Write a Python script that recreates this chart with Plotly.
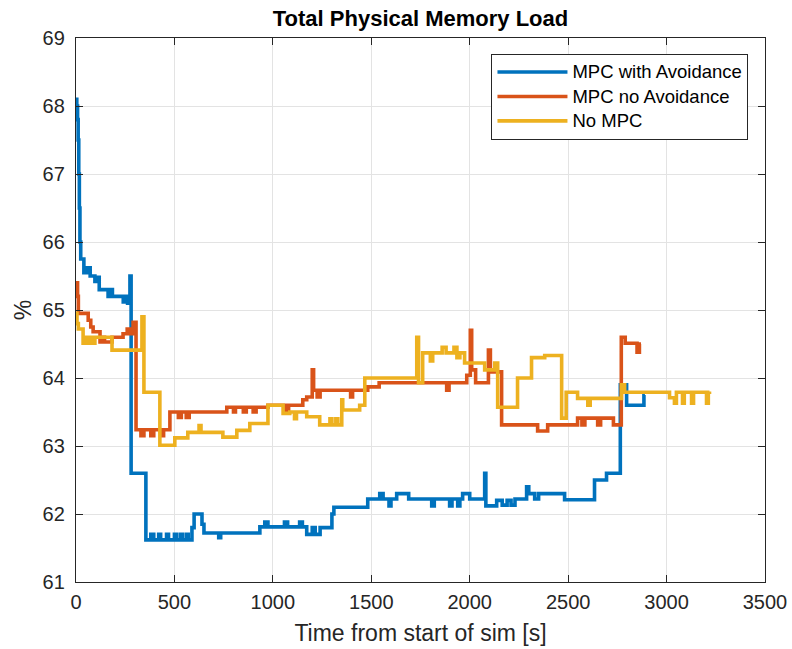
import plotly.graph_objects as go

# Memory load traces, stored as step breakpoints (time [s], load [%])
t_avoid = [0, 4, 8, 11, 14, 17, 20, 24, 40, 58, 72, 96, 110, 118, 163, 175, 185, 240, 255, 262, 274, 280,
           355, 380, 395, 420, 430, 460, 470, 500, 510, 530, 540, 560, 570, 589, 600, 640, 650, 725, 735,
           934, 959, 975, 1059, 1075, 1136, 1150, 1172, 1200, 1215, 1240, 1300, 1310, 1482, 1543, 1560,
           1590, 1600, 1629, 1690, 1807, 1820, 1898, 1910, 1939, 1950, 1964, 2000, 2076, 2082, 2137, 2165,
           2190, 2210, 2230, 2289, 2300, 2330, 2350, 2482, 2634, 2695, 2765, 2797, 2885, 2890]
y_avoid = [68.1, 68.0, 67.8, 67.5, 67.0, 66.5, 66.0, 65.75, 65.55, 65.62, 65.5, 65.42, 65.48, 65.3, 65.2, 65.3,
           65.2, 65.12, 65.2, 65.1, 65.5, 62.6,
           61.62, 61.7, 61.62, 61.7, 61.62, 61.7, 61.62, 61.7, 61.62, 61.7, 61.62, 61.7, 61.62, 61.8, 62.0,
           61.85, 61.72, 61.65, 61.72,
           61.81, 61.88, 61.81, 61.88, 61.81, 61.88, 61.81, 61.7, 61.8, 61.7, 61.8, 62.0, 62.1, 62.22, 62.3, 62.22,
           62.12, 62.22, 62.3, 62.22, 62.12, 62.22, 62.12, 62.22, 62.12, 62.22, 62.3, 62.22, 62.6, 62.12, 62.2,
           62.13, 62.2, 62.13, 62.22, 62.4, 62.3, 62.22, 62.3, 62.21, 62.5, 62.6, 63.9, 63.6, 63.75, 63.75]

t_noavoid = [0, 3, 8, 12, 62, 75, 87, 122, 135, 145, 183, 239, 260, 274, 290, 305, 330, 345, 380, 395, 430,
             445, 477, 520, 535, 560, 575, 766, 800, 810, 850, 865, 900, 915, 975, 1065, 1080, 1152, 1172,
             1200, 1207, 1225, 1240, 1395, 1405, 1482, 1540, 1883, 1895, 1985, 2003, 2010, 2030, 2095, 2105,
             2162, 2345, 2396, 2548, 2570, 2585, 2650, 2665, 2730, 2770, 2790, 2850, 2862, 2870]
y_noavoid = [65.3, 65.4, 65.2, 64.95, 64.85, 64.75, 64.68, 64.53, 64.6, 64.53, 64.6, 64.65, 64.72, 64.65,
             64.82, 63.24, 63.15, 63.24, 63.15, 63.24, 63.15, 63.24, 63.5, 63.42, 63.5, 63.42, 63.5, 63.57,
             63.5, 63.57, 63.5, 63.57, 63.5, 63.57, 63.6, 63.5, 63.6, 63.68, 63.72, 64.12, 63.82, 63.72, 63.82,
             63.72, 63.82, 63.87, 63.93, 63.82, 63.93, 64.04, 64.7, 64.12, 63.93, 64.41, 64.09, 63.31, 63.22,
             63.31, 63.41, 63.31, 63.41, 63.31, 63.41, 63.31, 64.6, 64.51, 64.38, 64.5, 64.5]

t_nompc = [0, 5, 12, 36, 50, 58, 70, 80, 96, 183, 335, 345, 426, 502, 568, 625, 635, 746, 817, 883, 975,
           1052, 1086, 1110, 1120, 1172, 1238, 1290, 1300, 1320, 1330, 1350, 1355, 1441, 1467, 1731, 1740,
           1761, 1800, 1812, 1860, 1880, 1920, 1935, 1950, 1974, 2076, 2127, 2142, 2150, 2243, 2314, 2381,
           2467, 2490, 2548, 2600, 2612, 2771, 2787, 3015, 3040, 3050, 3081, 3090, 3127, 3137, 3203, 3212, 3218]
y_nompc = [64.95, 64.8, 64.72, 64.51, 64.6, 64.51, 64.6, 64.51, 64.6, 64.41, 64.9, 63.79, 63.01, 63.12, 63.2,
           63.3, 63.2, 63.13, 63.23, 63.33, 63.6, 63.48, 63.5, 63.4, 63.5, 63.43, 63.31, 63.4, 63.31, 63.4,
           63.31, 63.68, 63.53, 63.6, 64.0, 64.6, 63.93, 64.37, 64.25, 64.37, 64.45, 64.37, 64.45, 64.3, 64.37,
           64.22, 64.12, 64.22, 63.57, 63.57, 64.0, 64.3, 64.33, 63.41, 63.79, 63.7, 63.6, 63.7, 63.9, 63.79,
           63.71, 63.63, 63.79, 63.63, 63.79, 63.63, 63.79, 63.63, 63.79, 63.8]

x_ticks = [0, 500, 1000, 1500, 2000, 2500, 3000, 3500]
y_ticks = [61, 62, 63, 64, 65, 66, 67, 68, 69]

series = [
    ("MPC with Avoidance", t_avoid, y_avoid, "#0072BD"),
    ("MPC no Avoidance", t_noavoid, y_noavoid, "#D95319"),
    ("No MPC", t_nompc, y_nompc, "#EDB120"),
]

FONT = "Liberation Sans, Arial"

fig = go.Figure()
for name, tx, ty, col in series:
    # legend rows are spaced by the legend font size; the label itself is drawn a bit larger
    label = f'<span style="font-size:18.5px">{name}</span>'
    fig.add_trace(go.Scatter(x=tx, y=ty, mode="lines", name=label, line_shape="hv",
                             line=dict(color=col, width=3.6)))

axis_common = dict(showline=True, linecolor="#262626", linewidth=1.3, mirror="ticks",
                   ticks="inside", ticklen=7, tickcolor="#262626", tickwidth=1,
                   showgrid=True, gridcolor="#e3e3e3", gridwidth=1, zeroline=False,
                   automargin=False,
                   tickfont=dict(family=FONT, size=20, color="#262626"))

fig.update_layout(
    width=792, height=649,
    margin=dict(l=76, r=27, t=38, b=67),
    paper_bgcolor="white", plot_bgcolor="white",
    title=dict(text="<b>Total Physical Memory Load</b>", x=0.5, xref="paper", xanchor="center",
               y=0.972, yanchor="middle",
               font=dict(family=FONT, size=22, color="black")),
    xaxis=dict(range=[0, 3500], tickvals=x_ticks, ticklabelstandoff=2,
               title=dict(text="Time from start of sim [s]", standoff=12,
                          font=dict(family=FONT, size=23, color="#262626")),
               **axis_common),
    yaxis=dict(range=[61, 69], tickvals=y_ticks, ticklabelstandoff=6,
               title=dict(text="%", standoff=4,
                          font=dict(family=FONT, size=23, color="#262626")),
               **axis_common),
    legend=dict(x=0.976, xanchor="right", y=0.971, yanchor="top",
                bgcolor="white", bordercolor="#262626", borderwidth=1,
                itemwidth=70,
                font=dict(family=FONT, size=16.5, color="black")),
    showlegend=True,
)

fig.write_html("out.html")
